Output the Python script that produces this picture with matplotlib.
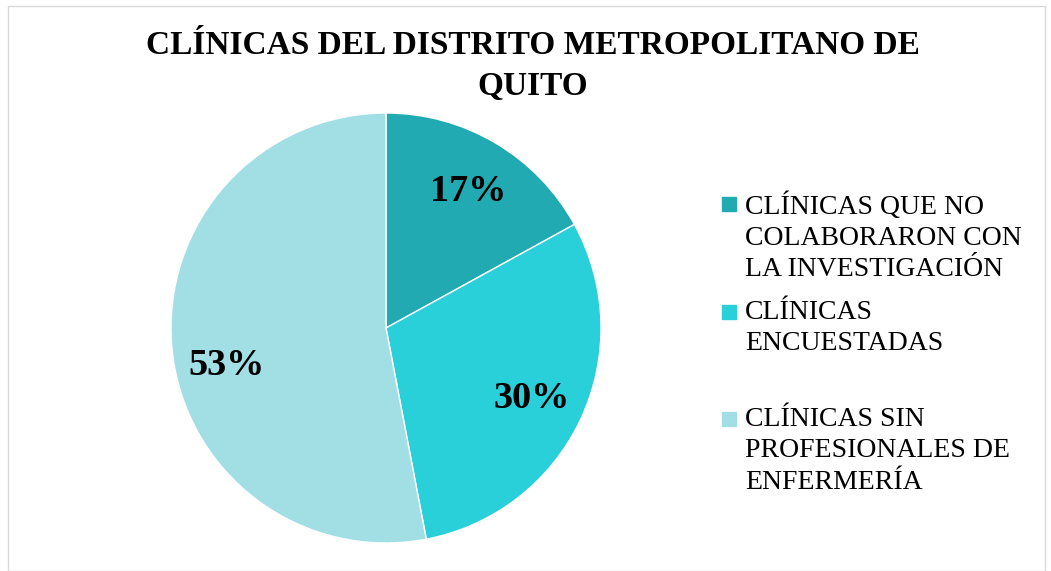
import matplotlib.pyplot as plt
from matplotlib.patches import Rectangle

# Data
labels = ["CLÍNICAS QUE NO\nCOLABORARON CON\nLA INVESTIGACIÓN",
          "CLÍNICAS\nENCUESTADAS",
          "CLÍNICAS SIN\nPROFESIONALES DE\nENFERMERÍA"]
values = [17, 30, 53]
colors = ["#21AAB1", "#29CFD9", "#A2DFE5"]
title = "CLÍNICAS DEL DISTRITO METROPOLITANO DE\nQUITO"

W, H = 1051, 571
fig = plt.figure(figsize=(W / 100, H / 100), dpi=100)
plt.rcParams['font.family'] = ['Liberation Serif', 'DejaVu Serif']

# chart border
fig.add_artist(Rectangle((8 / W, 0), (W - 14) / W, (H - 6) / H, transform=fig.transFigure,
                         fill=False, edgecolor="#D9D9D9", linewidth=1))

# pie: center (386, 328), radius 215 px
cx, cy, r = 386, 328, 215
ax = fig.add_axes([(cx - r) / W, (H - cy - r) / H, 2 * r / W, 2 * r / H])
wedges, texts, autotexts = ax.pie(values, colors=colors, startangle=90, counterclock=False,
                                  autopct='%1.0f%%', pctdistance=0.75, radius=1,
                                  wedgeprops=dict(edgecolor='white', linewidth=1))
for t in autotexts:
    t.set_fontsize(27.5)
    t.set_fontweight('bold')
    t.set_color('black')
    x, y = t.get_position()
    t.set_position((x, y - 0.01))
# Excel nudged the big slice's label a bit lower
autotexts[2].set_position((-0.74, -0.175))
ax.set_xlim(-1, 1)
ax.set_ylim(-1, 1)
ax.set_aspect('equal')

fig.text(533 / W, 1 - 66 / H, title, ha='center', va='center', fontsize=24,
         fontweight='bold', linespacing=1.43)

# legend drawn by hand, Excel style
tops = [195, 303, 410]
for lab, col, top in zip(labels, colors, tops):
    fig.add_artist(Rectangle((722 / W, 1 - (top + 16) / H), 14 / W, 14 / H,
                             transform=fig.transFigure, color=col))
    fig.text(745 / W, 1 - (top - 3) / H, lab, ha='left', va='top', fontsize=20,
             linespacing=1.33)

fig.savefig("out.png", dpi=100)
